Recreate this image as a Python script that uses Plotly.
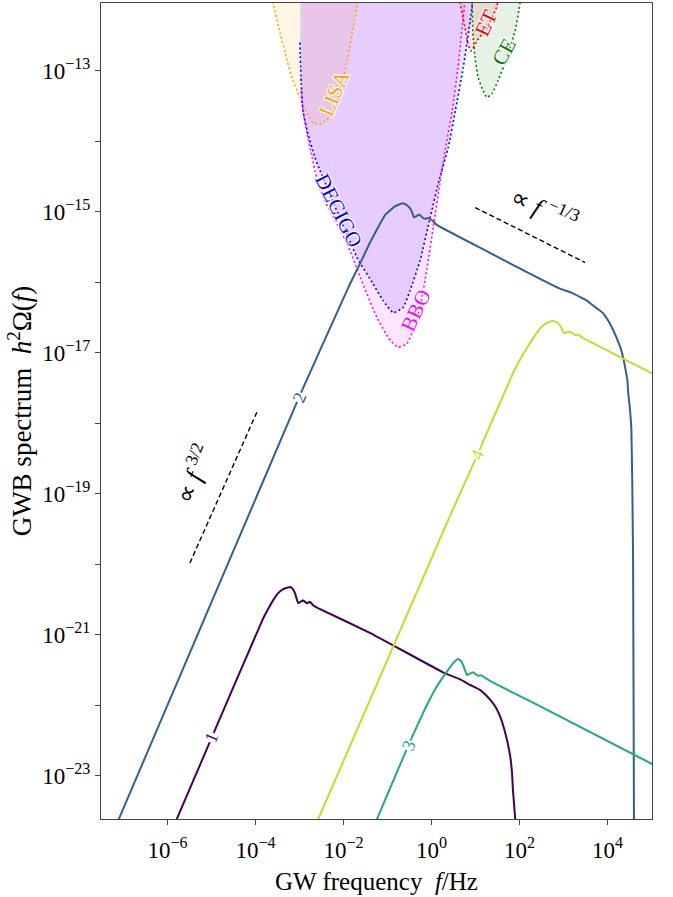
import numpy as np
import plotly.graph_objects as go

# ---------------- data (log10 f [Hz], log10 h^2 Omega) ----------------
c1_lf = [-5.85, -4.99, -3.85, -3.71, -3.60, -3.49, -3.37, -3.28, -3.21, -3.15, -3.10, -3.03, -2.92, -2.83, -2.76, -2.69, -2.58,
         -1.40, 0.26, 0.65, 0.88, 1.10, 1.26, 1.40, 1.49, 1.58, 1.65, 1.72, 1.79, 1.83, 1.85, 1.90, 1.91]
c1_lo = [-23.70, -22.45, -20.80, -20.63, -20.51, -20.41, -20.35, -20.33, -20.32, -20.35, -20.41, -20.55, -20.51, -20.55, -20.53, -20.58, -20.62,
         -20.97, -21.53, -21.63, -21.71, -21.78, -21.87, -21.97, -22.06, -22.19, -22.33, -22.50, -22.73, -22.96, -23.20, -23.59, -24.00]

c2_lf = [-7.20, -2.99, -1.85, -1.62, -1.40, -1.17, -1.06, -0.94, -0.85, -0.71, -0.65, -0.58, -0.49, -0.44, -0.40, -0.28, -0.17, -0.08, 0.01, 0.13,
         1.10, 2.92, 3.15, 3.38, 3.53, 3.67, 3.80, 3.90, 4.02, 4.13, 4.24, 4.29, 4.36, 4.40, 4.45, 4.47, 4.51, 4.54, 4.56, 4.58, 4.60, 4.605]
c2_lo = [-23.75, -17.60, -16.02, -15.73, -15.44, -15.17, -15.05, -14.98, -14.93, -14.89, -14.88, -14.90, -14.95, -15.01, -15.08, -15.04, -15.10, -15.09, -15.12, -15.19,
         -15.51, -16.09, -16.14, -16.21, -16.26, -16.33, -16.39, -16.44, -16.55, -16.68, -16.84, -16.92, -17.08, -17.21, -17.39, -17.57, -17.80, -18.06, -18.76, -19.94, -23.62, -24.50]

c3_lf = [-1.30, -0.53, -0.15, 0.13, 0.35, 0.49, 0.56, 0.60, 0.67, 0.72, 0.76, 0.81, 0.94, 1.06, 1.13, 1.22, 1.38, 2.24, 5.01]
c3_lo = [-23.70, -22.57, -22.05, -21.72, -21.52, -21.40, -21.36, -21.34, -21.37, -21.43, -21.50, -21.57, -21.53, -21.58, -21.57, -21.61, -21.67, -21.94, -22.83]

c4_lf = [-2.65, 0.38, 1.04, 1.85, 2.06, 2.24, 2.40, 2.54, 2.65, 2.76, 2.85, 2.92, 3.01, 3.15, 3.27, 3.33, 3.44, 3.60, 5.01]
c4_lo = [-23.72, -19.37, -18.45, -17.29, -17.04, -16.86, -16.71, -16.61, -16.57, -16.55, -16.57, -16.61, -16.72, -16.70, -16.75, -16.74, -16.79, -16.84, -17.29]

lisa_lf = [-3.66, -3.60, -3.44, -3.28, -3.15, -2.99, -2.83, -2.69, -2.53, -2.35, -2.19, -2.03, -1.90, -1.78, -1.69, -1.66]
lisa_lo = [-11.90, -12.05, -12.47, -12.86, -13.14, -13.38, -13.61, -13.74, -13.76, -13.68, -13.52, -13.18, -12.81, -12.39, -12.08, -11.90]

decigo_lf = [-2.99, -2.96, -2.92, -2.81, -2.65, -2.53, -1.69, -1.33, -1.10, -0.87, -0.65, -0.49, -0.26, -0.03, 0.19, 0.38, 0.54, 0.72, 0.88, 0.96]
decigo_lo = [-12.60, -13.18, -13.57, -13.89, -14.23, -14.42, -15.65, -16.02, -16.26, -16.43, -16.36, -16.12, -15.69, -15.08, -14.51, -14.09, -13.57, -12.96, -12.29, -11.90]

bbo_lf = [-2.96, -2.92, -2.83, -2.71, -2.65, -2.46, -1.92, -1.62, -1.24, -0.94, -0.76, -0.56, -0.42, -0.26, -0.10, 0.04, 0.19, 0.31, 0.47, 0.60, 0.72, 0.78]
bbo_lo = [-13.28, -13.57, -13.89, -14.23, -14.42, -14.80, -15.45, -15.93, -16.50, -16.82, -16.92, -16.87, -16.68, -16.36, -15.79, -15.22, -14.60, -14.13, -13.57, -12.96, -12.25, -11.90]

et_lf = [0.63, 0.65, 0.76, 0.83, 0.90, 1.04, 1.26, 1.49, 1.52]
et_lo = [-11.90, -12.04, -12.39, -12.62, -12.72, -12.57, -12.39, -12.08, -11.90]

ce_lf = [0.915, 0.92, 0.94, 0.99, 1.06, 1.17, 1.26, 1.38, 1.51, 1.72, 1.90, 2.01, 2.03]
ce_lo = [-11.90, -12.01, -12.47, -12.81, -13.10, -13.28, -13.38, -13.32, -13.14, -12.81, -12.43, -12.05, -11.90]

slope_up_lf = [-5.49, -3.96]
slope_up_lo = [-19.98, -17.83]
slope_dn_lf = [0.99, 3.49]
slope_dn_lo = [-14.94, -15.72]

curve_names = ["1", "2", "3", "4"]
curve_colors = ["#440154", "#355f8d", "#22a884", "#bddf26"]
curve_label_pos = [(-4.99, -22.45), (-2.99, -17.63), (-0.53, -22.57), (1.04, -18.45)]

x_tick_exp = [-6, -4, -2, 0, 2, 4]
y_tick_exp = list(range(-23, -12))

FONT = "Liberation Serif"
SHADOW = "1px 1px 1px white, -1px -1px 1px white, 1px -1px 1px white, -1px 1px 1px white, 0px 0px 2px white"


def p(a):
    return 10 ** np.array(a, dtype=float)


fig = go.Figure()

detectors = [
    ("LISA", lisa_lf, lisa_lo, "orange", "rgba(255,165,0,0.1)"),
    ("DECIGO", decigo_lf, decigo_lo, "blue", "rgba(0,0,255,0.1)"),
    ("BBO", bbo_lf, bbo_lo, "magenta", "rgba(255,0,255,0.1)"),
    ("ET", et_lf, et_lo, "red", "rgba(255,0,0,0.1)"),
    ("CE", ce_lf, ce_lo, "green", "rgba(0,128,0,0.1)"),
]

for name, lf, lo, lc, fc in detectors:
    xs = list(lf) + [lf[-1], lf[0]]
    ys = list(lo) + [-10.0, -10.0]
    fig.add_trace(go.Scatter(x=p(xs), y=p(ys), mode="lines", fill="toself", fillcolor=fc,
                             line=dict(width=0), hoverinfo="skip", showlegend=False))
for name, lf, lo, lc, fc in detectors:
    fig.add_trace(go.Scatter(x=p(lf), y=p(lo), mode="lines",
                             line=dict(color=lc, width=1.6, dash="2px,2.5px", shape="spline", smoothing=0.5),
                             showlegend=False, name=name))

# power-law guides
for lf, lo in [(slope_up_lf, slope_up_lo), (slope_dn_lf, slope_dn_lo)]:
    fig.add_trace(go.Scatter(x=p(lf), y=p(lo), mode="lines",
                             line=dict(color="black", width=1.4, dash="5px,3px"), showlegend=False))

curves = [(c1_lf, c1_lo), (c2_lf, c2_lo), (c3_lf, c3_lo), (c4_lf, c4_lo)]
for (lf, lo), col, nm in zip(curves, curve_colors, curve_names):
    fig.add_trace(go.Scatter(x=p(lf), y=p(lo), mode="lines",
                             line=dict(color=col, width=2, shape="spline", smoothing=0.25),
                             showlegend=False, name=nm))

ann = []
for nm, col, (ax, ay) in zip(curve_names, curve_colors, curve_label_pos):
    ann.append(dict(x=ax, y=ay, xref="x", yref="y", text=nm, showarrow=False, textangle=-67,
                    font=dict(family=FONT, size=18, color=col), bgcolor="white", borderpad=0))

det_labels = [
    ("LISA", -2.21, -13.31, -67, "orange"),
    ("DECIGO", -2.12, -14.98, 63, "blue"),
    ("BBO", -0.37, -16.40, -65, "magenta"),
    ("ET", 1.24, -12.32, -65, "red"),
    ("CE", 1.65, -12.74, -62, "green"),
]
for t, ax, ay, ang, col in det_labels:
    ann.append(dict(x=ax, y=ay, xref="x", yref="y", text=t, showarrow=False, textangle=ang,
                    font=dict(family=FONT, size=21, color=col, shadow=SHADOW)))

ann.append(dict(x=-5.42, y=-18.71, xref="x", yref="y", text="∝ <i>f</i> <sup>3/2</sup>",
                showarrow=False, textangle=-68, font=dict(family=FONT, size=25, color="black")))
ann.append(dict(x=2.58, y=-14.95, xref="x", yref="y", text="∝ <i>f</i> <sup>−1/3</sup>",
                showarrow=False, textangle=24, font=dict(family=FONT, size=25, color="black")))

fig.update_layout(
    width=673, height=897,
    margin=dict(l=101, r=21, t=3, b=78),
    paper_bgcolor="white", plot_bgcolor="white",
    font=dict(family=FONT, size=20, color="black"),
    annotations=ann,
    xaxis=dict(type="log", range=[-7.51, 5.01], showgrid=False, zeroline=False,
               showline=True, linecolor="#444", linewidth=1, mirror=True,
               ticks="outside", ticklen=5, tickcolor="#444", ticklabelstandoff=5,
               tickvals=[10.0 ** e for e in x_tick_exp],
               ticktext=["10<sup>%s</sup>" % (str(e).replace("-", "−")) for e in x_tick_exp],
               tickfont=dict(family=FONT, size=23),
               title=dict(text="GW frequency  <i>f</i>/Hz", font=dict(family=FONT, size=25), standoff=10)),
    yaxis=dict(type="log", range=[-23.61, -12.04], showgrid=False, zeroline=False,
               showline=True, linecolor="#444", linewidth=1, mirror=True,
               ticks="outside", ticklen=5, tickcolor="#444",
               tickvals=[10.0 ** e for e in y_tick_exp],
               ticktext=[("10<sup>%s</sup>" % (str(e).replace("-", "−"))) if e % 2 else "" for e in y_tick_exp],
               tickfont=dict(family=FONT, size=23),
               title=dict(text="GWB spectrum  <i>h</i><sup>2</sup>Ω(<i>f</i>)", font=dict(family=FONT, size=27), standoff=2)),
)

fig.write_html("out.html", post_script="document.body.style.margin='0px';",
               config={"displayModeBar": False})
